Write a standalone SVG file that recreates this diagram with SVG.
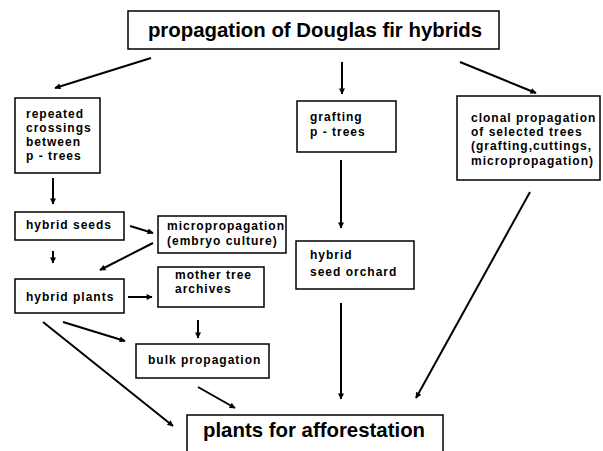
<svg xmlns="http://www.w3.org/2000/svg" width="603" height="451" viewBox="0 0 603 451">
<defs>
<marker id="ah" viewBox="0 0 10 10" refX="9" refY="5" markerWidth="7" markerHeight="6" markerUnits="userSpaceOnUse" orient="auto">
<path d="M0,0 L10,5 L0,10 z" fill="#000"/>
</marker>
<style>
.box{fill:#fff;stroke:#000;stroke-width:1.5}
.t{font-family:"Liberation Sans",Arial,sans-serif;font-weight:bold;font-size:12px;letter-spacing:1px;fill:#000}
.big{font-family:"Liberation Sans",Arial,sans-serif;font-weight:bold;font-size:20.4px;fill:#000}
.c{fill:none;stroke:#000;stroke-width:2;marker-end:url(#ah)}
</style>
</defs>
<rect width="603" height="451" fill="#fff"/>
<g id="connectors">
<line class="c" x1="151" y1="58" x2="55" y2="88"/>
<line class="c" x1="342" y1="62" x2="342" y2="94"/>
<line class="c" x1="460" y1="62" x2="536" y2="93"/>
<line class="c" x1="53" y1="178" x2="53" y2="204"/>
<line class="c" x1="53" y1="251" x2="53" y2="263"/>
<line class="c" x1="130" y1="226" x2="153" y2="233"/>
<line class="c" x1="153" y1="243" x2="100" y2="270"/>
<line class="c" x1="128" y1="297" x2="152" y2="297"/>
<line class="c" x1="198" y1="320" x2="198" y2="338"/>
<line class="c" x1="63" y1="322" x2="125" y2="341"/>
<line class="c" x1="43" y1="322" x2="173" y2="426"/>
<line class="c" x1="198" y1="387" x2="235" y2="408"/>
<line class="c" x1="341" y1="160" x2="341" y2="228"/>
<line class="c" x1="341" y1="303" x2="341" y2="399"/>
<line class="c" x1="530" y1="192" x2="416" y2="398"/>
</g>
<g id="title">
<rect class="box" x="128" y="11" width="371" height="38"/>
<text class="big" x="315" y="37" text-anchor="middle">propagation of Douglas fir hybrids</text>
</g>
<g id="repeated">
<rect class="box" x="15" y="98" width="85" height="75"/>
<text class="t" x="26" y="118">repeated</text>
<text class="t" x="26" y="132">crossings</text>
<text class="t" x="26" y="146">between</text>
<text class="t" x="26" y="160">p - trees</text>
</g>
<g id="grafting">
<rect class="box" x="297" y="101" width="99" height="51"/>
<text class="t" x="310" y="121">grafting</text>
<text class="t" x="310" y="136">p - trees</text>
</g>
<g id="clonal">
<rect class="box" x="457" y="96" width="143" height="84"/>
<text class="t" x="471" y="122">clonal propagation</text>
<text class="t" x="471" y="136">of selected trees</text>
<text class="t" x="471" y="150">(grafting,cuttings,</text>
<text class="t" x="471" y="165">micropropagation)</text>
</g>
<g id="hybrid-seeds">
<rect class="box" x="15" y="212" width="109" height="28"/>
<text class="t" x="26" y="229">hybrid seeds</text>
</g>
<g id="micropropagation">
<rect class="box" x="158" y="216" width="128" height="37"/>
<text class="t" x="167" y="230">micropropagation</text>
<text class="t" x="167" y="245">(embryo culture)</text>
</g>
<g id="hybrid-plants">
<rect class="box" x="15" y="279" width="109" height="34"/>
<text class="t" x="26" y="301">hybrid plants</text>
</g>
<g id="mother-tree">
<rect class="box" x="158" y="267" width="106" height="40"/>
<text class="t" x="175" y="279">mother tree</text>
<text class="t" x="175" y="293">archives</text>
</g>
<g id="orchard">
<rect class="box" x="296" y="241" width="118" height="48"/>
<text class="t" x="310" y="259">hybrid</text>
<text class="t" x="310" y="276">seed orchard</text>
</g>
<g id="bulk">
<rect class="box" x="136" y="344" width="133" height="34"/>
<text class="t" x="148" y="364">bulk propagation</text>
</g>
<g id="plants">
<rect class="box" x="187" y="415" width="256" height="40"/>
<text class="big" x="203" y="437">plants for afforestation</text>
</g>
</svg>
